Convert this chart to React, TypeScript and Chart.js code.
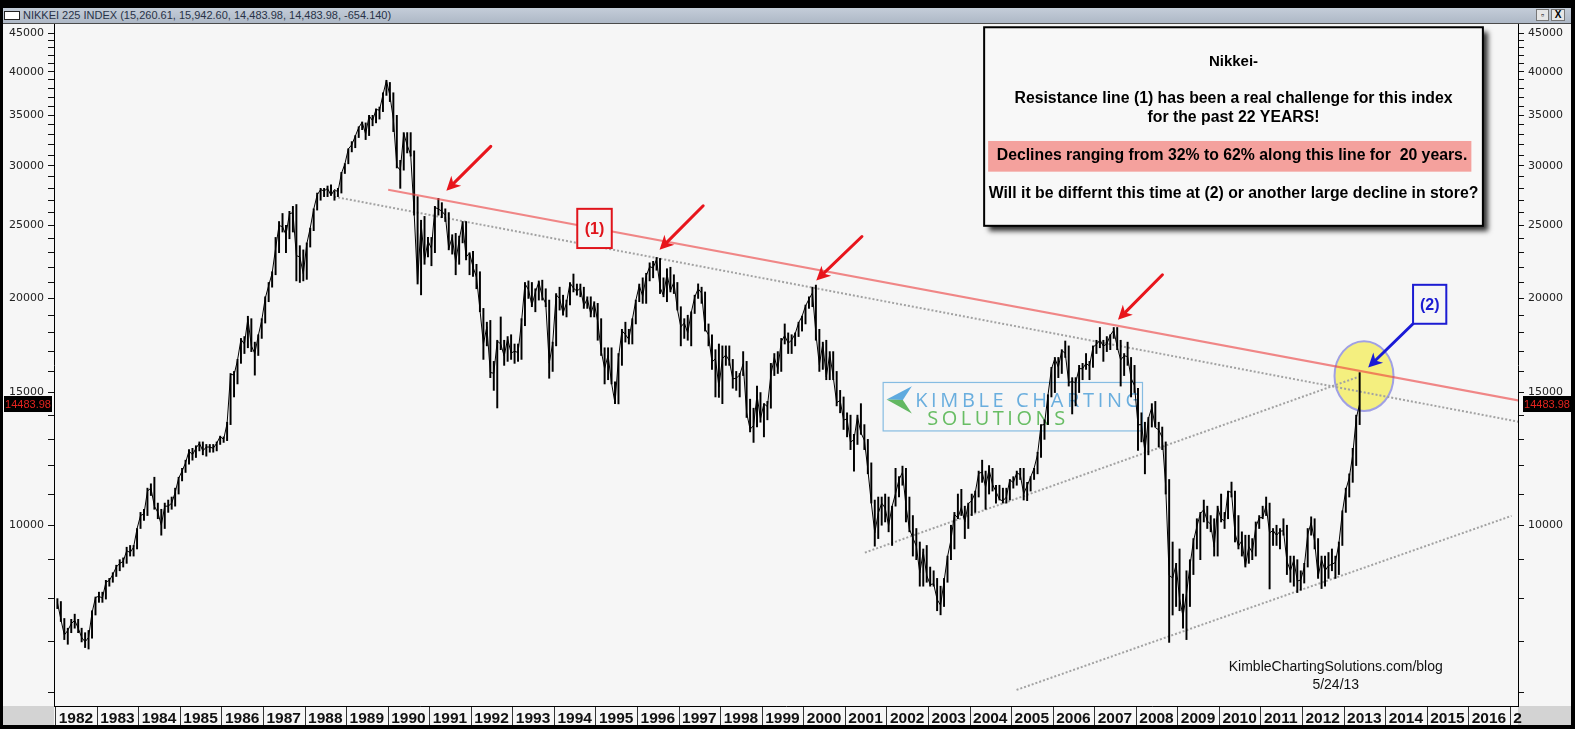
import React, { useEffect, useRef } from "react";
import { Chart, registerables } from "chart.js";

Chart.register(...registerables);

// ---------- data (monthly Nikkei 225, Jan 1982 .. May 2013) ----------
const START_YEAR = 1982;

const monthlyHigh = [
  7990, 7920, 7520, 7300, 7500, 7620, 7500, 7300, 7200, 7250, 7700, 8030, // 1982
  8150, 8150, 8450, 8500, 8650, 8850, 9000, 9050, 9350, 9400, 9400, 9900, // 1983
  10400, 10500, 11200, 11350, 11580, 10700, 10500, 10700, 10800, 10900, 11200, 11580, // 1984
  11900, 12200, 12600, 12650, 12750, 12900, 12900, 12800, 12800, 12800, 12900, 13130, // 1985
  13100, 13700, 15900, 16000, 16600, 17700, 17800, 18940, 18800, 17500, 17900, 18800, // 1986
  20100, 21000, 21700, 24100, 25300, 25930, 25000, 26100, 26500, 26650, 23500, 23200, // 1987
  23700, 24800, 26300, 27600, 28000, 28000, 28200, 28300, 27800, 28000, 29400, 30200, // 1988
  31600, 32300, 32900, 33800, 34300, 34200, 35000, 35000, 35700, 35900, 37500, 38960, // 1989
  38700, 37500, 35000, 30500, 33200, 33200, 33200, 31400, 27300, 25400, 25700, 24100, // 1990
  24100, 26500, 27150, 26800, 26300, 26000, 24300, 24400, 24200, 25300, 25300, 23000, // 1991
  23100, 22200, 21700, 19400, 18600, 18700, 16500, 17600, 18900, 17600, 17800, 17900, // 1992
  17400, 17400, 18800, 21000, 21100, 21000, 20600, 21100, 21150, 20600, 19900, 17500, // 1993
  20300, 20700, 20200, 19900, 21000, 21550, 20900, 20900, 20700, 20100, 20100, 19800, // 1994
  19700, 18800, 17200, 17200, 17200, 15500, 16900, 18200, 18600, 18200, 18800, 19900, // 1995
  20900, 21300, 21600, 22300, 22400, 22670, 22600, 21300, 21900, 22000, 21500, 21000, // 1996
  19500, 18800, 19000, 19200, 20200, 20910, 20700, 20400, 18500, 17900, 17100, 17400, // 1997
  17300, 17300, 17300, 16600, 16000, 15900, 17000, 16500, 14700, 14300, 15300, 15000, // 1998
  14500, 14600, 16400, 16900, 17000, 17700, 18500, 18000, 17900, 18000, 18600, 18950, // 1999
  19600, 20100, 20700, 20833, 18200, 17500, 17600, 17000, 17000, 16000, 15100, 14800, // 2000
  14100, 14000, 13200, 14000, 14500, 13600, 13000, 12100, 10800, 10900, 10900, 11000, // 2001
  10900, 10600, 11900, 11600, 11980, 11900, 10900, 10300, 9900, 9500, 9300, 9400, // 2002
  8800, 8700, 8500, 8300, 8500, 9100, 10000, 10400, 11000, 11160, 10600, 10700, // 2003
  11000, 11100, 11800, 12200, 11800, 12000, 11900, 11300, 11300, 11200, 11200, 11500, // 2004
  11600, 11800, 11900, 11900, 11400, 11600, 11900, 12500, 13600, 13800, 14900, 16200, // 2005
  16700, 16700, 17100, 17560, 17300, 15700, 15700, 16300, 16400, 16900, 16500, 17300, // 2006
  17600, 18300, 17600, 17800, 17900, 18300, 18300, 17600, 16900, 17500, 16700, 16300, // 2007
  15200, 14100, 13700, 13900, 14500, 14600, 13700, 13500, 12900, 11500, 9500, 8900, // 2008
  9300, 8100, 8700, 9000, 9600, 10200, 10400, 10800, 10600, 10300, 10200, 10600, // 2009
  11000, 10400, 11100, 11410, 11100, 10300, 9800, 9700, 9700, 9600, 10100, 10300, // 2010
  10600, 10900, 10700, 9900, 10000, 9900, 10200, 10000, 9100, 9100, 9000, 8700, // 2011
  8900, 9900, 10260, 10200, 9600, 9100, 9100, 9200, 9300, 9100, 9500, 10450, // 2012
  11200, 11700, 12650, 14000, 15942, // 2013
];

const monthlyLow = [
  7750, 7450, 7050, 6950, 7200, 7300, 7200, 7000, 6880, 6850, 7080, 7600, // 1982
  7900, 7900, 7980, 8300, 8400, 8550, 8700, 8800, 8900, 9100, 9100, 9300, // 1983
  9900, 10150, 10300, 10950, 10500, 10200, 9700, 9900, 10400, 10500, 10600, 11000, // 1984
  11450, 11750, 12050, 12200, 12300, 12550, 12400, 12350, 12500, 12500, 12550, 12800, // 1985
  12880, 12950, 13600, 14800, 15400, 16400, 16900, 17200, 17000, 15820, 16800, 17700, // 1986
  18550, 19800, 20700, 21500, 23000, 24500, 23000, 24000, 24500, 21100, 21000, 21100, // 1987
  21200, 23400, 24600, 26200, 27000, 27300, 27300, 27400, 27000, 27300, 27600, 29300, // 1988
  30180, 31300, 31700, 32700, 33500, 32500, 32900, 33900, 34200, 34600, 35400, 37200, // 1989
  36500, 33300, 29800, 28000, 29600, 31200, 30900, 25800, 20900, 20220, 22200, 22700, // 1990
  22100, 23000, 25800, 25600, 25300, 23200, 22900, 21500, 22200, 23700, 22500, 21500, // 1991
  21400, 20600, 19200, 16600, 17300, 15700, 15100, 14310, 17100, 16300, 16500, 16600, // 1992
  16400, 16500, 16600, 18400, 20000, 19500, 19200, 19900, 19900, 19500, 15670, 16000, // 1993
  17300, 19300, 19000, 18900, 19600, 20400, 20200, 20100, 19400, 19400, 18900, 18900, // 1994
  17600, 16800, 15400, 15600, 15400, 14500, 14490, 16300, 17500, 17400, 17400, 18500, // 1995
  19800, 19700, 19700, 21100, 21300, 21800, 20300, 20100, 19800, 20400, 20300, 19300, // 1996
  17300, 17700, 17600, 17300, 19100, 20000, 19700, 18100, 17300, 16100, 14800, 14780, // 1997
  14500, 16300, 16300, 15200, 15100, 14800, 15800, 13900, 13300, 12880, 13500, 13700, // 1998
  13100, 13800, 14300, 15800, 15900, 16000, 17400, 16900, 16900, 17300, 17800, 18100, // 1999
  18500, 19400, 19500, 17600, 16000, 16100, 15600, 15600, 15600, 14400, 14100, 13400, // 2000
  13100, 12600, 11800, 12800, 13200, 12600, 11700, 10700, 9380, 9600, 10000, 10100, // 2001
  9800, 9400, 10600, 10900, 11300, 10100, 9800, 9100, 9000, 8300, 8300, 8400, // 2002
  8300, 8300, 7700, 7604, 7800, 8400, 9000, 9300, 10200, 10300, 9600, 9900, // 2003
  10300, 10400, 10900, 11400, 10500, 11000, 11100, 10700, 10800, 10700, 10700, 10800, // 2004
  11200, 11300, 11500, 10800, 10780, 11100, 11500, 11700, 12300, 13000, 13600, 14800, // 2005
  15000, 15700, 15900, 16700, 15300, 14050, 14400, 15000, 15600, 16100, 15600, 16200, // 2006
  16900, 17200, 16500, 17000, 17100, 17700, 17100, 15300, 15800, 16300, 14800, 15000, // 2007
  12570, 12900, 11700, 12400, 13500, 13500, 12700, 12600, 11000, 6990, 7600, 7800, // 2008
  7700, 7300, 7050, 7800, 8600, 9300, 9000, 10100, 9900, 9800, 9100, 9100, // 2009
  10100, 9900, 10200, 10900, 9500, 9300, 9100, 8800, 8900, 9000, 9100, 9900, // 2010
  10200, 10300, 8230, 9400, 9400, 9300, 9700, 8600, 8400, 8300, 8140, 8200, // 2011
  8380, 8800, 9700, 9300, 8500, 8240, 8300, 8500, 8700, 8500, 8600, 9400, // 2012
  10400, 10900, 11400, 12000, 13600, // 2013
];

const monthlyClose = [
  7900, 7500, 7150, 7250, 7400, 7480, 7300, 7100, 7000, 7100, 7650, 8017, // 1982
  8050, 8000, 8400, 8450, 8600, 8800, 8900, 8950, 9250, 9200, 9350, 9894, // 1983
  10300, 10350, 11100, 11200, 10600, 10400, 10000, 10600, 10600, 10700, 11050, 11543, // 1984
  11800, 12100, 12550, 12400, 12650, 12850, 12550, 12700, 12700, 12650, 12850, 13113, // 1985
  13000, 13650, 15860, 15830, 16550, 17650, 17400, 18800, 17300, 16900, 17850, 18701, // 1986
  20000, 20800, 21600, 23300, 25000, 24900, 24300, 25900, 26000, 22800, 22700, 21564, // 1987
  23620, 24800, 26260, 27430, 27900, 27770, 28000, 27400, 27900, 27700, 29300, 30159, // 1988
  31580, 31990, 32840, 33710, 34270, 33050, 34950, 34430, 35640, 35550, 37270, 38916, // 1989
  37190, 34590, 29980, 29580, 33130, 31940, 31040, 25980, 20980, 25190, 22450, 23850, // 1990
  23290, 26410, 26290, 26110, 25790, 23290, 24120, 22340, 23920, 25220, 22690, 22980, // 1991
  22020, 21340, 19350, 17390, 18350, 15950, 15910, 17560, 17400, 16770, 17680, 16925, // 1992
  17020, 16950, 18590, 20920, 20550, 19590, 20380, 21030, 20110, 19700, 16410, 17420, // 1993
  20230, 19990, 19110, 19730, 20970, 20640, 20450, 20630, 19560, 19990, 19080, 19720, // 1994
  18650, 17050, 16140, 16810, 15440, 14520, 16680, 18120, 17910, 17650, 18740, 19870, // 1995
  20810, 20130, 21410, 22040, 21960, 22530, 20690, 20170, 21560, 20470, 21020, 19360, // 1996
  18330, 18560, 18000, 19150, 20070, 20600, 20330, 18230, 17890, 16460, 16640, 15260, // 1997
  16630, 16830, 16530, 15640, 15670, 15830, 16380, 14110, 13410, 13560, 14880, 13840, // 1998
  14500, 14370, 15840, 16700, 16110, 17530, 17860, 17440, 17610, 17940, 18560, 18934, // 1999
  19540, 19960, 20340, 17970, 16330, 17410, 15730, 16860, 15750, 14540, 14650, 13790, // 2000
  13840, 12880, 13000, 13930, 13260, 12970, 11860, 10710, 9770, 10370, 10700, 10540, // 2001
  9990, 10590, 11020, 11490, 11760, 10620, 9880, 9620, 9380, 8640, 9220, 8580, // 2002
  8340, 8360, 7970, 7830, 8420, 9080, 9560, 10340, 10220, 10560, 10100, 10680, // 2003
  10780, 11040, 11720, 11760, 11240, 11860, 11330, 11080, 10820, 10770, 10900, 11490, // 2004
  11390, 11740, 11670, 11010, 11280, 11580, 11900, 12410, 13570, 13610, 14870, 16110, // 2005
  16650, 16210, 17060, 16910, 15470, 15510, 15460, 16140, 16130, 16400, 16270, 17230, // 2006
  17380, 17600, 17290, 17400, 17880, 18140, 17250, 16570, 16790, 16740, 15680, 15310, // 2007
  13590, 13600, 12530, 13850, 14340, 13480, 13380, 13070, 11260, 8580, 8510, 8860, // 2008
  7990, 7570, 8110, 8830, 9520, 9960, 10360, 10490, 10130, 10030, 9350, 10550, // 2009
  10200, 10130, 11090, 11060, 9770, 9380, 9540, 8820, 9370, 9200, 9940, 10230, // 2010
  10240, 10620, 9760, 9850, 9690, 9820, 9830, 8960, 8700, 8990, 8430, 8460, // 2011
  8800, 9720, 10080, 9520, 8540, 9010, 8700, 8840, 8870, 8930, 9450, 10395, // 2012
  11140, 11560, 12400, 13860, 14483.98, // 2013
];

const lastPrice = 14483.98;
const titleText = "NIKKEI 225 INDEX (15,260.61, 15,942.60, 14,483.98, 14,483.98, -654.140)";

// axis ticks
const yearTicks = [
  1982, 1983, 1984, 1985, 1986, 1987, 1988, 1989, 1990, 1991, 1992, 1993,
  1994, 1995, 1996, 1997, 1998, 1999, 2000, 2001, 2002, 2003, 2004, 2005,
  2006, 2007, 2008, 2009, 2010, 2011, 2012, 2013, 2014, 2015, 2016, 2017,
];
const yearLabels = [
  "1982", "1983", "1984", "1985", "1986", "1987", "1988", "1989", "1990", "1991", "1992", "1993",
  "1994", "1995", "1996", "1997", "1998", "1999", "2000", "2001", "2002", "2003", "2004", "2005",
  "2006", "2007", "2008", "2009", "2010", "2011", "2012", "2013", "2014", "2015", "2016", "2",
];
const yTickValues = [
  6000, 7000, 8000, 9000, 10000, 11000, 12000, 13000, 14000, 15000, 16000, 17000,
  18000, 19000, 20000, 21000, 22000, 23000, 24000, 25000, 26000, 27000, 28000, 29000,
  30000, 31000, 32000, 33000, 34000, 35000, 36000, 37000, 38000, 39000, 40000, 41000,
  42000, 43000, 44000, 45000,
];
const yLabelValues = [10000, 15000, 20000, 25000, 30000, 35000, 40000, 45000];

const X_MIN = 1981.96;
const X_MAX = 2017.185;
const Y_MIN = 5755;
const Y_MAX = 46270;

// trend lines (year, index value)
const resistanceLine = [{ x: 1990.0, y: 27880 }, { x: 2017.2, y: 14640 }];
const upperDotted = [{ x: 1988.7, y: 27290 }, { x: 2017.2, y: 13720 }];
const middleDotted = [{ x: 2001.47, y: 9197 }, { x: 2013.35, y: 15740 }];
const lowerDotted = [{ x: 2005.12, y: 6045 }, { x: 2017.03, y: 10290 }];

// annotations (year, index value)
const redArrows = [
  { x1: 1992.47, y1: 31830, x2: 1991.4, y2: 27800 },
  { x1: 1997.58, y1: 26550, x2: 1996.53, y2: 23210 },
  { x1: 2001.4, y1: 24170, x2: 2000.3, y2: 21130 },
  { x1: 2008.63, y1: 21500, x2: 2007.56, y2: 18740 },
];
const blueArrow = { x1: 2014.66, y1: 18510, x2: 2013.58, y2: 16200 };
const box1 = { x1: 1994.55, y1: 26300, x2: 1995.38, y2: 23330, label: "(1)" };
const box2 = { x1: 2014.66, y1: 20850, x2: 2015.46, y2: 18510, label: "(2)" };
const highlight = { x1: 2012.77, y1: 17550, x2: 2014.19, y2: 14180 };
const noteBox = { x1: 2004.34, y1: 45810, x2: 2016.34, y2: 24970 };
const logoBox = { x1: 2001.91, y1: 15470, x2: 2008.15, y2: 13340 };
const watermark = { x: 2012.8, y1: 6480, y2: 6135 };

const noteTitle = "Nikkei-";
const noteLine1 = "Resistance line (1) has been a real challenge for this index";
const noteLine2 = "for the past 22 YEARS!";
const noteLine3 = "Declines ranging from 32% to 62% along this line for  20 years.";
const noteLine4 = "Will it be differnt this time at (2) or another large decline in store?";

const SANS = '"Liberation Sans", Arial, sans-serif';

function drawArrow(ctx: CanvasRenderingContext2D, x1: number, y1: number, x2: number, y2: number, color: string) {
  const ang = Math.atan2(y2 - y1, x2 - x1);
  const head = 14;
  const hw = 7;
  const bx = x2 - head * Math.cos(ang);
  const by = y2 - head * Math.sin(ang);
  ctx.save();
  ctx.strokeStyle = color;
  ctx.lineWidth = 3;
  ctx.lineCap = "round";
  ctx.beginPath();
  ctx.moveTo(x1, y1);
  ctx.lineTo(bx + 3 * Math.cos(ang), by + 3 * Math.sin(ang));
  ctx.stroke();
  ctx.fillStyle = color;
  ctx.beginPath();
  ctx.moveTo(x2, y2);
  ctx.lineTo(bx + hw * Math.sin(ang), by - hw * Math.cos(ang));
  ctx.lineTo(bx + 4 * Math.cos(ang), by + 4 * Math.sin(ang));
  ctx.lineTo(bx - hw * Math.sin(ang), by + hw * Math.cos(ang));
  ctx.closePath();
  ctx.fill();
  ctx.restore();
}

function fitSpacing(ctx: CanvasRenderingContext2D, text: string, target: number) {
  const anyCtx = ctx as any;
  anyCtx.letterSpacing = "0px";
  const w = ctx.measureText(text).width;
  const sp = Math.max(0, (target - w) / (text.length - 1));
  anyCtx.letterSpacing = sp.toFixed(2) + "px";
}

const annotationPlugin = {
  id: "nikkeiAnnotations",
  beforeDraw(chart: any) {
    const { ctx, width, height, chartArea } = chart;
    ctx.save();
    ctx.fillStyle = "#f6f6f6";
    ctx.fillRect(0, 0, width, height);
    ctx.fillStyle = "#d3d3d3";
    ctx.fillRect(0, chartArea.bottom, chartArea.left, height - chartArea.bottom);
    ctx.fillRect(chartArea.right, chartArea.bottom, width - chartArea.right, height - chartArea.bottom);
    ctx.restore();
  },
  beforeDatasetsDraw(chart: any) {
    const { ctx } = chart;
    const xs = chart.scales.x;
    const ys = chart.scales.y;
    const px = (v: number) => xs.getPixelForValue(v);
    const py = (v: number) => ys.getPixelForValue(v);
    ctx.save();
    // logo
    const L = px(logoBox.x1), T = py(logoBox.y1), R = px(logoBox.x2), B = py(logoBox.y2);
    ctx.strokeStyle = "#86bce2";
    ctx.lineWidth = 1.2;
    ctx.strokeRect(L, T, R - L, B - T);
    ctx.fillStyle = "#5eaadf";
    ctx.beginPath();
    ctx.moveTo(L + 3.4, T + 17);
    ctx.lineTo(L + 28.7, T + 3.7);
    ctx.lineTo(L + 19.7, T + 17.5);
    ctx.closePath();
    ctx.fill();
    ctx.fillStyle = "#63b862";
    ctx.beginPath();
    ctx.moveTo(L + 3.4, T + 17);
    ctx.lineTo(L + 19.7, T + 17.5);
    ctx.lineTo(L + 28.7, T + 31);
    ctx.closePath();
    ctx.fill();
    ctx.textBaseline = "middle";
    ctx.textAlign = "left";
    ctx.font = '500 20px "Open Sans", "Noto Sans", sans-serif';
    ctx.fillStyle = "#6aaede";
    fitSpacing(ctx, "KIMBLE CHARTING", 225);
    ctx.fillText("KIMBLE CHARTING", L + 32, T + 18.5);
    ctx.fillStyle = "#68bd64";
    fitSpacing(ctx, "SOLUTIONS", 138);
    ctx.fillText("SOLUTIONS", L + 44, T + 36.5);
    (ctx as any).letterSpacing = "0px";
    // watermark
    ctx.fillStyle = "#111";
    ctx.textAlign = "center";
    ctx.font = "14px " + SANS;
    ctx.fillText("KimbleChartingSolutions.com/blog", px(watermark.x), py(watermark.y1));
    ctx.fillText("5/24/13", px(watermark.x), py(watermark.y2));
    // highlight ellipse
    const ex1 = px(highlight.x1), ex2 = px(highlight.x2), ey1 = py(highlight.y1), ey2 = py(highlight.y2);
    ctx.beginPath();
    ctx.ellipse((ex1 + ex2) / 2, (ey1 + ey2) / 2, (ex2 - ex1) / 2, (ey2 - ey1) / 2, 0, 0, Math.PI * 2);
    ctx.fillStyle = "#f4ef7f";
    ctx.fill();
    ctx.strokeStyle = "#a0a0e4";
    ctx.lineWidth = 2;
    ctx.stroke();
    ctx.restore();
  },
  afterDatasetsDraw(chart: any) {
    const { ctx } = chart;
    const xs = chart.scales.x;
    const ys = chart.scales.y;
    const px = (v: number) => xs.getPixelForValue(v);
    const py = (v: number) => ys.getPixelForValue(v);
    ctx.save();
    redArrows.forEach((a) => drawArrow(ctx, px(a.x1), py(a.y1), px(a.x2), py(a.y2), "#e8151c"));
    drawArrow(ctx, px(blueArrow.x1), py(blueArrow.y1), px(blueArrow.x2), py(blueArrow.y2), "#1a1ad6");

    const drawLabelBox = (b: any, color: string) => {
      const L = px(b.x1), T = py(b.y1), R = px(b.x2), B = py(b.y2);
      ctx.fillStyle = "#f6f6f6";
      ctx.fillRect(L, T, R - L, B - T);
      ctx.strokeStyle = color;
      ctx.lineWidth = 2;
      ctx.strokeRect(L, T, R - L, B - T);
      ctx.fillStyle = color;
      ctx.font = "bold 16px " + SANS;
      ctx.textAlign = "center";
      ctx.textBaseline = "middle";
      ctx.fillText(b.label, (L + R) / 2, (T + B) / 2 + 1);
    };
    drawLabelBox(box1, "#e0141b");
    drawLabelBox(box2, "#1c1cd2");

    // note box
    const L = px(noteBox.x1), T = py(noteBox.y1), R = px(noteBox.x2), B = py(noteBox.y2);
    ctx.save();
    ctx.shadowColor = "rgba(0,0,0,0.8)";
    ctx.shadowBlur = 5;
    ctx.shadowOffsetX = 5;
    ctx.shadowOffsetY = 5;
    ctx.fillStyle = "#f8f8f8";
    ctx.fillRect(L, T, R - L, B - T);
    ctx.restore();
    ctx.strokeStyle = "#000";
    ctx.lineWidth = 2;
    ctx.strokeRect(L, T, R - L, B - T);
    ctx.fillStyle = "#f4a19d";
    ctx.fillRect(L + 4, T + 113.7, R - L - 15.5, 30.7);
    const cx = (L + R) / 2;
    ctx.fillStyle = "#000";
    ctx.textAlign = "center";
    ctx.textBaseline = "middle";
    ctx.font = "bold 15px " + SANS;
    ctx.fillText(noteTitle, cx, T + 35);
    ctx.font = "bold 15.8px " + SANS;
    ctx.fillText(noteLine1, cx, T + 71);
    ctx.fillText(noteLine2, cx, T + 90);
    ctx.fillText(noteLine3, cx - 1.5, T + 128.5);
    ctx.fillText(noteLine4, cx, T + 166);
    ctx.restore();
  },
  afterDraw(chart: any) {
    const { ctx, chartArea } = chart;
    const y = chart.scales.y.getPixelForValue(lastPrice);
    ctx.save();
    ctx.fillStyle = "#000";
    ctx.fillRect(1, y - 8, 48, 16);
    ctx.fillRect(chartArea.right + 5, y - 8, 48, 16);
    ctx.fillStyle = "#e3241f";
    ctx.font = "11px " + SANS;
    ctx.textAlign = "center";
    ctx.textBaseline = "middle";
    ctx.fillText(lastPrice.toFixed(2), 25, y + 0.5);
    ctx.fillText(lastPrice.toFixed(2), chartArea.right + 29, y + 0.5);
    ctx.restore();
  },
};

function monthX(i: number) {
  return START_YEAR + (i + 0.5) / 12;
}

function yAxisOptions(position: "left" | "right", width: number) {
  return {
    type: "logarithmic" as const,
    position,
    min: Y_MIN,
    max: Y_MAX,
    afterBuildTicks: (s: any) => {
      s.ticks = yTickValues.map((v) => ({ value: v }));
    },
    afterFit: (s: any) => {
      s.width = width;
      s.paddingTop = 0;
      s.paddingBottom = 0;
      s.paddingLeft = 0;
      s.paddingRight = 0;
    },
    grid: { drawOnChartArea: false, drawTicks: true, tickLength: 6, color: "#111" },
    border: { display: true, color: "#000", width: 1 },
    ticks: {
      autoSkip: false,
      padding: 4,
      color: "#222",
      font: { family: '"DejaVu Sans", Tahoma, sans-serif', size: 11 },
      callback: (v: any) => (yLabelValues.includes(Number(v)) ? String(v) : ""),
    },
  };
}

function NikkeiChart() {
  const ref = useRef<HTMLCanvasElement | null>(null);
  useEffect(() => {
    if (!ref.current) return;
    const rangeBars = monthlyHigh.map((h, i) => ({ x: monthX(i), y: [monthlyLow[i], h] }));
    const closePoints = monthlyClose.map((c, i) => ({ x: monthX(i), y: c }));
    const chart = new Chart(ref.current, {
      type: "bar",
      data: {
        datasets: [
          {
            type: "line",
            data: resistanceLine,
            borderColor: "rgba(236,64,64,0.62)",
            borderWidth: 2,
            pointRadius: 0,
            order: 0,
          } as any,
          {
            type: "line",
            data: upperDotted,
            borderColor: "#a2a2a2",
            borderWidth: 2,
            borderDash: [2, 2],
            pointRadius: 0,
            order: 3,
          },
          {
            type: "line",
            data: middleDotted,
            borderColor: "#a2a2a2",
            borderWidth: 2,
            borderDash: [2, 2],
            pointRadius: 0,
            order: 3,
          },
          {
            type: "line",
            data: lowerDotted,
            borderColor: "#a2a2a2",
            borderWidth: 2,
            borderDash: [2, 2],
            pointRadius: 0,
            order: 3,
          },
          {
            type: "line",
            data: closePoints,
            borderColor: "#000",
            borderWidth: 1,
            pointRadius: 0,
            tension: 0,
            order: 1,
          },
          {
            type: "bar",
            data: rangeBars,
            backgroundColor: "#000",
            barThickness: 1.3,
            borderWidth: 0,
            order: 2,
          } as any,
        ],
      },
      options: {
        responsive: false,
        animation: false,
        events: [],
        layout: { padding: 0 },
        plugins: { legend: { display: false }, tooltip: { enabled: false } },
        scales: {
          x: {
            type: "linear",
            position: "bottom",
            min: X_MIN,
            max: X_MAX,
            offset: false,
            afterBuildTicks: (s: any) => {
              s.ticks = yearTicks.map((v) => ({ value: v }));
            },
            afterFit: (s: any) => {
              s.height = 19;
              s.paddingLeft = 0;
              s.paddingRight = 0;
              s.paddingTop = 0;
              s.paddingBottom = 0;
            },
            grid: { drawOnChartArea: false, drawTicks: true, tickLength: 19, color: "#333", offset: false },
            border: { display: true, color: "#000", width: 1 },
            ticks: {
              autoSkip: false,
              maxRotation: 0,
              minRotation: 0,
              align: "start",
              labelOffset: 3,
              padding: -16,
              color: "#111",
              font: { family: SANS, size: 15.5, weight: "bold" },
              callback: (v: any) => {
                const i = yearTicks.indexOf(Number(v));
                return i >= 0 ? yearLabels[i] : "";
              },
            },
          } as any,
          y: yAxisOptions("left", 51) as any,
          y2: yAxisOptions("right", 53) as any,
        },
      },
      plugins: [annotationPlugin],
    });
    return () => chart.destroy();
  }, []);
  return (
    <canvas
      ref={ref}
      width={1568}
      height={701}
      style={{ position: "absolute", left: 3, top: 24, width: 1568, height: 701 }}
    />
  );
}

export default function App() {
  return (
    <div
      style={{
        position: "fixed",
        left: 0,
        top: 0,
        width: 1575,
        height: 729,
        background: "#000",
        overflow: "hidden",
      }}
    >
      <div
        style={{
          position: "absolute",
          left: 3,
          top: 8,
          width: 1568,
          height: 15,
          background: "linear-gradient(#c4cdd9, #aeb8c6)",
        }}
      >
        <div
          style={{
            position: "absolute",
            left: 1,
            top: 3,
            width: 14,
            height: 7,
            background: "#fff",
            border: "1px solid #222",
          }}
        />
        <span
          style={{
            position: "absolute",
            left: 20,
            top: 0,
            lineHeight: "15px",
            fontFamily: SANS,
            fontSize: 11,
            color: "#283247",
            whiteSpace: "nowrap",
          }}
        >
          {titleText}
        </span>
        <div
          style={{
            position: "absolute",
            left: 1533,
            top: 1,
            width: 13,
            height: 12,
            background: "#e6e6e6",
            border: "1px solid #777",
            boxSizing: "border-box",
            fontSize: 9,
            lineHeight: "10px",
            textAlign: "center",
            fontFamily: SANS,
            fontWeight: "bold",
          }}
        >
          ▫
        </div>
        <div
          style={{
            position: "absolute",
            left: 1548,
            top: 1,
            width: 14,
            height: 12,
            background: "#e6e6e6",
            border: "1px solid #777",
            boxSizing: "border-box",
            fontSize: 10,
            lineHeight: "10px",
            textAlign: "center",
            fontFamily: SANS,
            fontWeight: "bold",
          }}
        >
          X
        </div>
      </div>
      <div style={{ position: "absolute", left: 3, top: 23, width: 1568, height: 1, background: "#4a4a4a" }} />
      <NikkeiChart />
    </div>
  );
}
